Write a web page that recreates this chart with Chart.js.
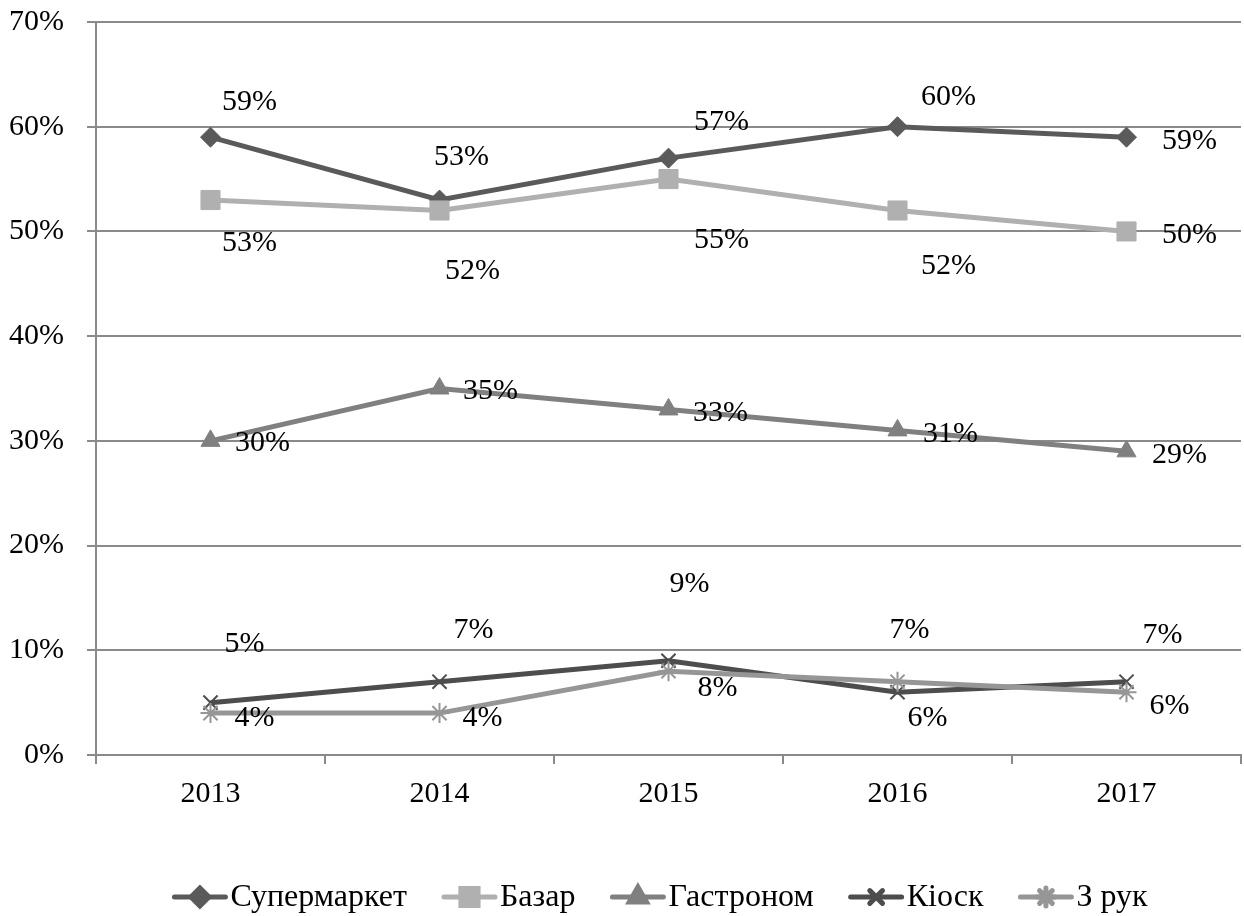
<!DOCTYPE html>
<html>
<head>
<meta charset="utf-8">
<script src="https://cdn.jsdelivr.net/npm/chart.js@4.4.1/dist/chart.umd.min.js"></script>
<style>
  html, body { margin: 0; padding: 0; background: #ffffff; }
  #wrap { width: 1244px; height: 916px; position: relative; }
</style>
</head>
<body>
<div id="wrap"><canvas id="c" width="1244" height="916"></canvas></div>
<script>
// Years on the category axis
const years = ['2013', '2014', '2015', '2016', '2017'];

// Share of purchases by place, %
const supermarket = [59, 53, 57, 60, 59];
const bazaar      = [53, 52, 55, 52, 50];
const grocery     = [30, 35, 33, 31, 29];
const kiosk       = [5, 7, 9, 6, 7];
const byHand      = [4, 4, 8, 7, 6];

// Series names shown in the legend
const seriesNames = ['Супермаркет', 'Базар', 'Гастроном', 'Кіоск', 'З рук'];

// Value-axis ticks
const yTicks = [0, 10, 20, 30, 40, 50, 60, 70];

const FONT = '"Liberation Serif", "Times New Roman", serif';
const FONT_SIZE = 30;
const LEGEND_FONT_SIZE = 32;

// Where each value label sits relative to its point (dx, dy in px)
const labelOffsets = [
  [[39, -35], [22, -43], [53, -36], [51, -30], [63, 4]],
  [[39, 43], [33, 61], [53, 61], [51, 56], [63, 4]],
  [[52, 2], [51, 3], [52, 4], [53, 4], [53, 4]],
  [[34, -59], [34, -52], [21, -77], [30, 26], [36, -47]],
  [[44, 5], [43, 5], [49, 17], [12, -52], [43, 14]]
];

const styles = [
  { color: '#5a5a5a', pointStyle: 'rectRot',  radius: 10, pbw: 1 },
  { color: '#b0b0b0', pointStyle: 'rect',     radius: 13.5, pbw: 1 },
  { color: '#808080', pointStyle: 'triangle', radius: 11, pbw: 1 },
  { color: '#4d4d4d', pointStyle: 'crossRot', radius: 10, pbw: 2 },
  { color: '#969696', pointStyle: 'star',     radius: 10, pbw: 2 }
];

const seriesData = [supermarket, bazaar, grocery, kiosk, byHand];

const datasets = seriesData.map((vals, i) => ({
  label: seriesNames[i],
  data: vals,
  borderColor: styles[i].color,
  backgroundColor: styles[i].color,
  borderWidth: 5,
  pointStyle: styles[i].pointStyle,
  pointRadius: styles[i].radius,
  pointHoverRadius: styles[i].radius,
  pointBorderWidth: styles[i].pbw,
  pointBackgroundColor: styles[i].color,
  pointBorderColor: styles[i].color,
  tension: 0,
  order: seriesData.length - i
}));

// Value labels next to every point
const valueLabels = {
  id: 'valueLabels',
  afterDatasetsDraw(chart) {
    const ctx = chart.ctx;
    ctx.save();
    ctx.font = FONT_SIZE + 'px ' + FONT;
    ctx.fillStyle = '#000000';
    ctx.textAlign = 'center';
    ctx.textBaseline = 'middle';
    chart.data.datasets.forEach((ds, i) => {
      const meta = chart.getDatasetMeta(i);
      meta.data.forEach((pt, j) => {
        const off = labelOffsets[i][j];
        ctx.fillText(ds.data[j] + '%', pt.x + off[0], pt.y + off[1]);
      });
    });
    ctx.restore();
  }
};

// Legend row under the plot: line with marker, then the series name
const lineLegend = {
  id: 'lineLegend',
  afterDraw(chart) {
    const ctx = chart.ctx;
    ctx.save();
    ctx.font = LEGEND_FONT_SIZE + 'px ' + FONT;
    const lineLen = 55, gapText = 3, gapItem = 35, yc = 897;
    const widths = chart.data.datasets.map(ds => ctx.measureText(ds.label).width);
    let total = 0;
    widths.forEach((w, i) => { total += lineLen + gapText + w + (i < widths.length - 1 ? gapItem : 0); });
    let x = 660 - total / 2;
    chart.data.datasets.forEach((ds, i) => {
      ctx.strokeStyle = ds.borderColor;
      ctx.lineWidth = 5;
      ctx.lineCap = 'round';
      ctx.beginPath();
      ctx.moveTo(x + 2, yc);
      ctx.lineTo(x + lineLen - 2, yc);
      ctx.stroke();
      ctx.fillStyle = ds.backgroundColor;
      Chart.helpers.drawPoint(ctx, {
        pointStyle: ds.pointStyle,
        radius: ds.pointRadius * 0.9,
        rotation: 0,
        borderWidth: ds.pointBorderWidth
      }, x + lineLen / 2, yc);
      ctx.fillStyle = '#000000';
      ctx.textAlign = 'left';
      ctx.textBaseline = 'middle';
      ctx.fillText(ds.label, x + lineLen + gapText, yc + 1);
      x += lineLen + gapText + widths[i] + gapItem;
    });
    ctx.restore();
  }
};

new Chart(document.getElementById('c'), {
  type: 'line',
  data: { labels: years, datasets: datasets },
  options: {
    responsive: false,
    animation: false,
    devicePixelRatio: 1,
    layout: { autoPadding: false, padding: { top: 22, right: 3, bottom: 0, left: 0 } },
    plugins: {
      legend: { display: false },
      tooltip: { enabled: false }
    },
    scales: {
      x: {
        offset: true,
        grid: {
          offset: true,
          drawOnChartArea: false,
          drawTicks: true,
          tickLength: 9,
          color: '#8a8a8a',
          lineWidth: 2
        },
        border: { display: true, color: '#8a8a8a', width: 2 },
        ticks: {
          color: '#000000',
          font: { family: FONT, size: FONT_SIZE },
          padding: 12,
          maxRotation: 0
        },
        afterFit(scale) {
          scale.height = 916 - 755;
          scale.paddingLeft = 0;
          scale.paddingRight = 0;
        }
      },
      y: {
        min: 0,
        max: 70,
        afterBuildTicks(scale) { scale.ticks = yTicks.map(v => ({ value: v })); },
        grid: {
          color: '#8a8a8a',
          lineWidth: 2,
          drawTicks: true,
          tickLength: 9
        },
        border: { display: true, color: '#8a8a8a', width: 2 },
        ticks: {
          color: '#000000',
          font: { family: FONT, size: FONT_SIZE },
          padding: 23,
          callback: v => v + '%'
        },
        afterFit(scale) {
          scale.width = 96;
          scale.paddingTop = 0;
          scale.paddingBottom = 0;
        }
      }
    }
  },
  plugins: [valueLabels, lineLegend]
});
</script>
</body>
</html>
